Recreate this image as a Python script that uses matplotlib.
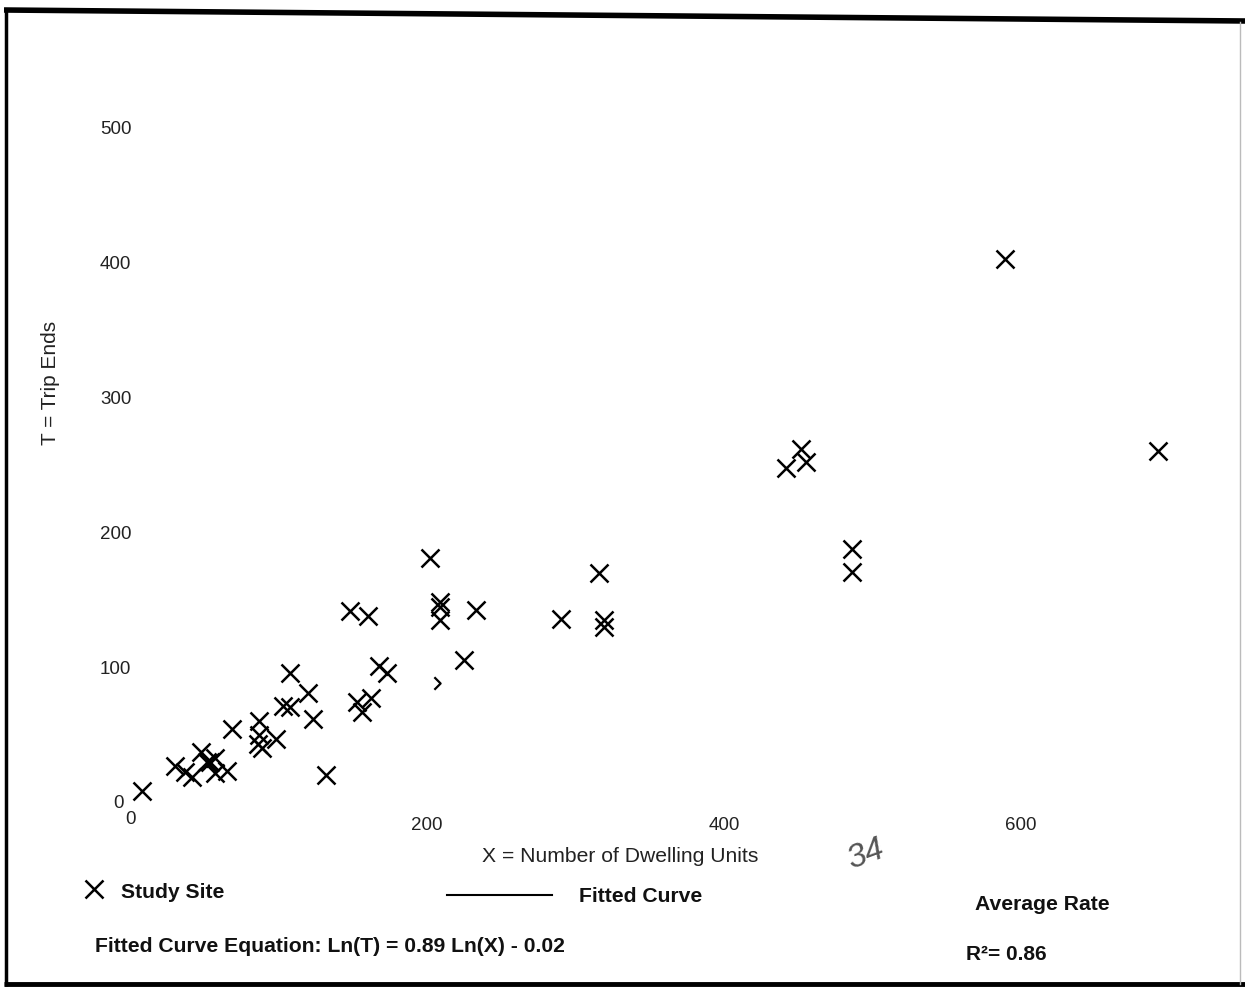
import matplotlib.pyplot as plt
from matplotlib.path import Path
from matplotlib.lines import Line2D

# study sites (dwelling units, trip ends)
units = [8, 30, 37, 42, 48, 52, 54, 57, 57, 65, 69, 87, 87, 86, 89, 98,
         103, 108, 108, 120, 123, 132, 148, 160, 153, 162, 156, 168, 173,
         202, 209, 209, 209, 233, 225, 290, 316, 319, 319, 442, 452, 455,
         486, 486, 589, 692]
trips = [9, 27, 23, 19, 38, 30, 30, 33, 22, 24, 55, 61, 50, 44, 41, 47,
         72, 71, 96, 81, 62, 21, 142, 138, 75, 78, 67, 101, 96,
         181, 149, 145, 135, 143, 106, 136, 170, 135, 130, 248, 262, 252,
         188, 171, 402, 260]
# one mark only half printed in the scan
half_units = [207]
half_trips = [89]

xticks = [200, 400, 600]
yticks = [100, 200, 300, 400, 500]

W, H = 1245, 989
fig = plt.figure(figsize=(W / 100, H / 100), dpi=100)
plt.rcParams['font.family'] = ['Liberation Sans', 'DejaVu Sans']


def fx(px):
    return px / W


def fy(py):
    return 1 - py / H


# axes: x=0 at px 130, y=0 at px 803
ax = fig.add_axes([fx(130), fy(803), fx(1200) - fx(130), fy(100) - fy(803)])
ax.set_xlim(0, (1200 - 130) / 1.485)
ax.set_ylim(0, (803 - 100) / 1.352)
for s in ax.spines.values():
    s.set_visible(False)
ax.tick_params(length=0, labelsize=13.5, colors='#222222')
ax.tick_params(axis='x', pad=10)
ax.tick_params(axis='y', pad=-1)
ax.set_xticks(xticks)
ax.set_yticks(yticks)
ax.text(-4, 0, '0', ha='right', va='center', fontsize=13.5, color='#222222')
ax.text(0, -6, '0', ha='center', va='top', fontsize=13.5, color='#222222')

ax.plot(units, trips, ls='none', marker='x', ms=13, mew=1.8, color='black')
half = Path([(-0.5, 1), (0.5, 0), (-0.5, -1)],
            [Path.MOVETO, Path.LINETO, Path.LINETO])
ax.plot(half_units, half_trips, ls='none', marker=half, ms=9, mew=1.6,
        mfc='none', color='black')

fig.text(fx(620), fy(856), 'X = Number of Dwelling Units', ha='center',
         va='center', fontsize=15.2, color='#222222')
fig.text(fx(50), fy(383), 'T = Trip Ends', ha='center', va='center',
         rotation=90, fontsize=15, color='#222222')

# handwritten page number
fig.text(fx(866), fy(855), '34', ha='center', va='center', fontsize=24,
         style='italic', rotation=20, color='#555555', fontweight='light')

# legend block
fig.add_artist(Line2D([fx(94)], [fy(889)], marker='x', ms=13, mew=1.8,
                      color='black', ls='none'))
fig.text(fx(121), fy(892), 'Study Site', ha='left', va='center',
         fontsize=15.2, fontweight='bold', color='#111111')
fig.add_artist(Line2D([fx(447), fx(552)], [fy(895), fy(895)], lw=1.5,
                      color='black'))
fig.text(fx(579), fy(897), 'Fitted Curve', ha='left', va='center',
         fontsize=15.2, fontweight='bold', color='#111111')
fig.text(fx(975), fy(904), 'Average Rate', ha='left', va='center',
         fontsize=15.2, fontweight='bold', color='#111111')
fig.text(fx(95), fy(946),
         'Fitted Curve Equation: Ln(T) = 0.89 Ln(X) - 0.02',
         ha='left', va='center', fontsize=15.2, fontweight='bold',
         color='#111111')
fig.text(fx(966), fy(954), 'R²= 0.86', ha='left', va='center',
         fontsize=15, fontweight='bold', color='#111111')

# page frame from the scan
frame = dict(color='black', solid_capstyle='butt')
fig.add_artist(Line2D([fx(4), fx(1245)], [fy(10), fy(21)], lw=4, **frame))
fig.add_artist(Line2D([fx(6), fx(6)], [fy(9), fy(986)], lw=2.5, **frame))
fig.add_artist(Line2D([fx(4), fx(1245)], [fy(984), fy(984)], lw=3.5, **frame))
fig.add_artist(Line2D([fx(1240), fx(1240)], [fy(22), fy(984)], lw=1,
                      color='#bbbbbb'))

fig.savefig('out.png', dpi=100)
